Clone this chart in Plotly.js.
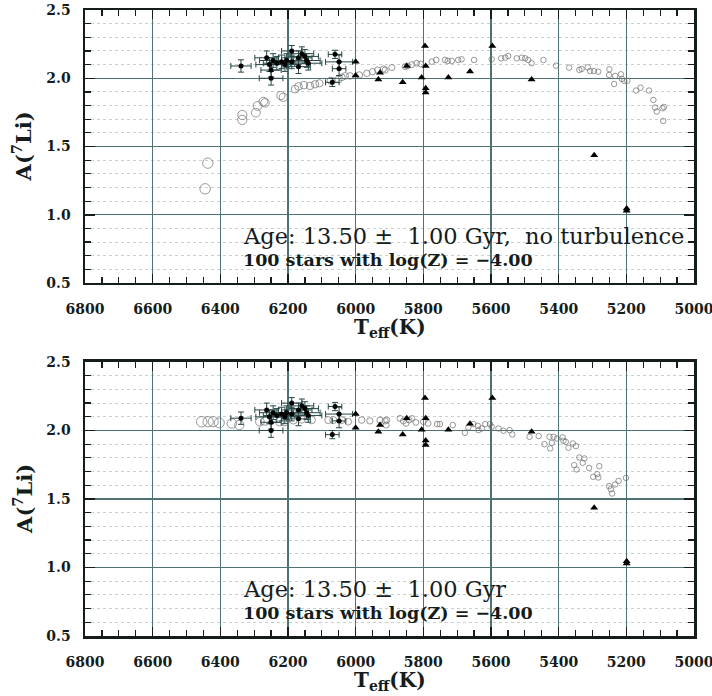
<!DOCTYPE html>
<html>
<head>
<meta charset="utf-8">
<script src="https://cdn.plot.ly/plotly-3.0.1.min.js"></script>
<style>html,body{margin:0;padding:0;background:#fff;}#plot{width:712px;height:696px;}</style>
</head>
<body>
<div id="plot"></div>
<script>
// ---- Observed stars (filled circles with error bars), same in both panels
const obsT = [6339, 6250, 6250, 6255, 6263, 6244, 6233, 6219, 6209, 6204, 6189, 6189, 6169, 6169, 6159, 6150, 6145, 6140, 6061, 6049, 6049, 6069];
const obsA = [2.09, 2.00, 2.06, 2.10, 2.15, 2.13, 2.11, 2.12, 2.10, 2.13, 2.20, 2.12, 2.15, 2.085, 2.18, 2.16, 2.13, 2.11, 2.175, 2.12, 2.07, 1.97];
const obsTerr = [30, 35, 30, 40, 35, 40, 40, 35, 40, 35, 30, 40, 40, 35, 35, 40, 40, 40, 20, 40, 20, 20];
const obsAerr = [0.045, 0.05, 0.05, 0.05, 0.05, 0.05, 0.05, 0.05, 0.05, 0.05, 0.04, 0.05, 0.05, 0.05, 0.05, 0.05, 0.05, 0.05, 0.03, 0.05, 0.05, 0.03];

// ---- Observed stars shown as triangles
const triT = [6000, 6000, 5928, 5933, 5849, 5861, 5805, 5795, 5793, 5793, 5793, 5726, 5662, 5596, 5480, 5295, 5199, 5199];
const triA = [2.12, 2.02, 2.04, 1.99, 2.09, 1.97, 2.005, 2.237, 2.09, 1.927, 1.895, 2.005, 2.05, 2.237, 1.99, 1.436, 1.045, 1.03];

// ---- Model stars, top panel (no turbulence)
const modelTopT = [6445, 6437, 6335, 6335, 6295, 6290, 6273, 6268, 6221, 6214, 6179, 6169, 6153, 6135, 6120, 6107, 6074, 6051, 6041, 6031, 6017, 5989, 5967, 5950, 5935, 5918, 5913, 5893, 5854, 5847, 5834, 5820, 5808, 5775, 5762, 5736, 5728, 5716, 5697, 5687, 5650, 5598, 5570, 5558, 5549, 5524, 5509, 5499, 5490, 5480, 5445, 5408, 5369, 5339, 5332, 5314, 5307, 5296, 5283, 5250, 5251, 5233, 5236, 5216, 5213, 5206, 5197, 5171, 5158, 5133, 5120, 5115, 5110, 5093, 5089, 5091];
const modelTopA = [1.19, 1.378, 1.731, 1.695, 1.748, 1.797, 1.829, 1.82, 1.873, 1.86, 1.92, 1.94, 1.95, 1.944, 1.956, 1.963, 1.982, 1.99, 2.007, 2.017, 2.017, 2.024, 2.036, 2.048, 2.06, 2.068, 2.06, 2.078, 2.085, 2.09, 2.10, 2.11, 2.105, 2.122, 2.134, 2.134, 2.127, 2.127, 2.134, 2.139, 2.134, 2.139, 2.146, 2.151, 2.163, 2.146, 2.151, 2.146, 2.134, 2.11, 2.134, 2.092, 2.078, 2.061, 2.068, 2.08, 2.053, 2.053, 2.048, 2.066, 2.024, 2.017, 1.958, 2.029, 1.995, 1.98, 1.982, 1.91, 1.931, 1.91, 1.841, 1.785, 1.756, 1.78, 1.79, 1.687];

// ---- Model stars, bottom panel
const modelBotT = [6455, 6436, 6421, 6403, 6366, 6344, 6283, 6268, 6224, 6209, 6184, 6160, 6130, 6081, 6066, 6041, 6022, 5982, 5958, 5928, 5913, 5908, 5910, 5869, 5859, 5851, 5842, 5834, 5822, 5800, 5786, 5759, 5751, 5713, 5677, 5667, 5652, 5639, 5637, 5627, 5617, 5603, 5598, 5578, 5563, 5545, 5537, 5486, 5459, 5442, 5427, 5425, 5420, 5415, 5405, 5388, 5386, 5379, 5371, 5358, 5349, 5339, 5324, 5329, 5354, 5347, 5310, 5280, 5298, 5286, 5283, 5251, 5246, 5242, 5233, 5223, 5201];
const modelBotA = [2.064, 2.064, 2.064, 2.056, 2.052, 2.04, 2.064, 2.07, 2.064, 2.064, 2.076, 2.081, 2.076, 2.076, 2.076, 2.076, 2.064, 2.076, 2.07, 2.076, 2.07, 2.076, 2.04, 2.088, 2.069, 2.052, 2.076, 2.088, 2.059, 2.064, 2.052, 2.047, 2.047, 2.04, 1.983, 2.023, 2.047, 2.034, 2.003, 2.015, 2.047, 2.047, 2.027, 2.015, 1.998, 2.003, 1.971, 1.954, 1.959, 1.90, 1.954, 1.869, 1.91, 1.954, 1.942, 1.95, 1.925, 1.917, 1.874, 1.905, 1.886, 1.803, 1.796, 1.764, 1.747, 1.716, 1.727, 1.74, 1.662, 1.681, 1.657, 1.594, 1.572, 1.54, 1.606, 1.632, 1.654];

// ---- Text
const yTitle = 'A(<sup>7</sup>Li)';
const xTitle = 'T<sub>eff</sub>(K)';
const topLabel = 'Age: 13.50 \u00b1\u00a0 1.00 Gyr,\u00a0 no turbulence';
const botLabel = 'Age: 13.50 \u00b1\u00a0 1.00 Gyr';
const subLabel = '100 stars with log(Z) = \u22124.00';

// ---- styling helpers
const SERIF = 'DejaVu Serif, serif';
const INK = '#141c1c';
function modelSize(T){ const f = Math.max(0, (T - 5600) / 850); return 5.5 + 5 * f * f; }

function modelTrace(T, A, xa, ya){
  return {x:T, y:A, xaxis:xa, yaxis:ya, type:'scatter', mode:'markers', hoverinfo:'skip',
    marker:{symbol:'circle-open', size:T.map(modelSize), color:'#6e6e6e', line:{width:1, color:'#6e6e6e'}}};
}
function obsTrace(xa, ya){
  return {x:obsT, y:obsA, xaxis:xa, yaxis:ya, type:'scatter', mode:'markers',
    error_x:{type:'data', array:obsTerr, visible:true, color:'#264646', thickness:1, width:3},
    error_y:{type:'data', array:obsAerr, visible:true, color:'#264646', thickness:1, width:3},
    marker:{symbol:'circle', size:5, color:'#000'}};
}
function triTrace(xa, ya){
  return {x:triT, y:triA, xaxis:xa, yaxis:ya, type:'scatter', mode:'markers',
    marker:{symbol:'triangle-up', size:7, color:'#000'}};
}

const tickFont = {family:SERIF, size:14, weight:'bold', color:INK};
function xAxis(anchor){
  return {anchor:anchor, range:[6800,5000], tick0:5000, dtick:200, ticks:'inside', ticklen:9, tickwidth:1.5,
    tickcolor:INK, showline:true, linewidth:2.5, linecolor:INK, mirror:'ticks', showgrid:true,
    gridcolor:'#4f7272', gridwidth:1.2, zeroline:false, tickfont:tickFont, ticklabelstandoff:12,
    ticklabeloverflow:'allow',
    minor:{dtick:50, ticks:'inside', ticklen:6, tickwidth:1.2, tickcolor:INK, showgrid:false}};
}
function yAxis(anchor, domain){
  return {anchor:anchor, domain:domain, range:[0.5,2.5], tick0:0.5, dtick:0.5, tickformat:'.1f',
    ticks:'inside', ticklen:10, tickwidth:1.5, tickcolor:INK, showline:true, linewidth:2.5, linecolor:INK,
    mirror:'ticks', showgrid:true, gridcolor:'#4f7272', gridwidth:1.2, zeroline:false,
    tickfont:tickFont, ticklabelstandoff:9, ticklabeloverflow:'allow',
    minor:{dtick:0.1, ticks:'inside', ticklen:6, tickwidth:1.2, tickcolor:INK,
      showgrid:true, gridcolor:'#c8d0d0', griddash:'dot', gridwidth:1}};
}

const data = [
  modelTrace(modelTopT, modelTopA, 'x', 'y'), obsTrace('x','y'), triTrace('x','y'),
  modelTrace(modelBotT, modelBotA, 'x2', 'y2'), obsTrace('x2','y2'), triTrace('x2','y2')
];

function panelAnn(xa, ya, label){
  return [
    {xref:xa, yref:ya, x:6338, y:0.846, xanchor:'left', yanchor:'middle', showarrow:false, text:label,
      font:{family:SERIF, size:22.5, color:INK}},
    {xref:xa, yref:ya, x:6338, y:0.670, xanchor:'left', yanchor:'middle', showarrow:false, text:subLabel,
      font:{family:SERIF, size:17.5, weight:'bold', color:INK}},
    {xref:xa + ' domain', yref:ya + ' domain', x:0.5, y:-0.11, xanchor:'center', yanchor:'top', showarrow:false,
      text:xTitle, font:{family:SERIF, size:20, weight:'bold', color:INK}},
    {xref:'paper', yref:ya + ' domain', x:-0.102, y:0.5, xanchor:'center', yanchor:'middle', showarrow:false,
      textangle:-90, text:yTitle, font:{family:SERIF, size:21, weight:'bold', color:INK}}
  ];
}

const layout = {
  width:712, height:696, margin:{l:85, r:18, t:10, b:60},
  paper_bgcolor:'#fff', plot_bgcolor:'#fff', showlegend:false,
  xaxis:xAxis('y'), yaxis:yAxis('x', [0.5639, 1]),
  xaxis2:xAxis('y2'), yaxis2:yAxis('x2', [0, 0.4377]),
  annotations:[].concat(panelAnn('x','y',topLabel), panelAnn('x2','y2',botLabel))
};

Plotly.newPlot('plot', data, layout, {staticPlot:true, displayModeBar:false});
</script>
</body>
</html>
